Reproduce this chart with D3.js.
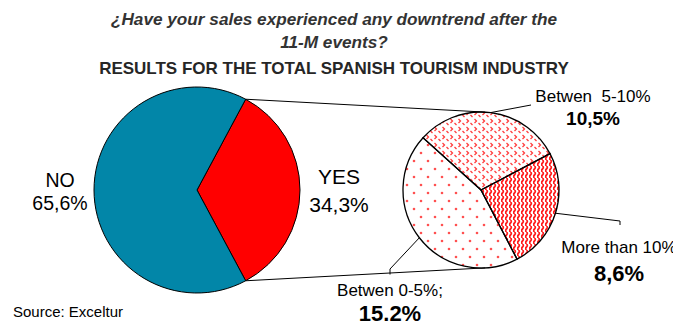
<!DOCTYPE html>
<html>
<head>
<meta charset="utf-8">
<script src="https://cdn.jsdelivr.net/npm/d3@7"></script>
<style>
  html, body { margin: 0; padding: 0; background: #fff; }
  svg { display: block; }
  text { font-family: Arial, "Liberation Sans", sans-serif; }
</style>
</head>
<body>
<div id="chart"></div>
<script>
// Main answer split
const mainCategories = ["YES", "NO"];
const mainValues = [34.3, 65.6];
const mainLabels = ["34,3%", "65,6%"];

// Breakdown of the "YES" answers by size of the downtrend
const subCategories = ["Betwen  5-10%", "More than 10%", "Betwen 0-5%;"];
const subValues = [10.5, 8.6, 15.2];
const subLabels = ["10,5%", "8,6%", "15.2%"];

const titleLines = ["¿Have your sales experienced any downtrend after the", "11-M events?"];
const subtitle = "RESULTS FOR THE TOTAL SPANISH TOURISM INDUSTRY";
const sourceNote = "Source: Exceltur";

const W = 673, H = 323;
const svg = d3.select("#chart").append("svg").attr("width", W).attr("height", H);

// ---- fill patterns for the breakdown pie ----
const defs = svg.append("defs");
const red = "#ff1a1a";

const pZig = defs.append("pattern").attr("id", "pat-zig")
  .attr("patternUnits", "userSpaceOnUse").attr("width", 8).attr("height", 8);
pZig.append("path").attr("d", "M1.5,1 L3.5,3 L1.5,5 M5.5,5 L7.5,7")
  .attr("fill", "none").attr("stroke", red).attr("stroke-width", 1.3).attr("opacity", 0.85);

const pWave = defs.append("pattern").attr("id", "pat-wave")
  .attr("patternUnits", "userSpaceOnUse").attr("width", 4).attr("height", 6);
pWave.append("path").attr("d", "M1.5,0 Q3.2,1.5 1.5,3 Q-0.2,4.5 1.5,6")
  .attr("fill", "none").attr("stroke", red).attr("stroke-width", 1.7);

const pDots = defs.append("pattern").attr("id", "pat-dots")
  .attr("patternUnits", "userSpaceOnUse").attr("width", 14).attr("height", 16);
[[3, 3], [10, 11]].forEach(([x, y]) =>
  pDots.append("circle").attr("cx", x).attr("cy", y).attr("r", 1.3).attr("fill", "#ff5050"));

const subFills = ["url(#pat-zig)", "url(#pat-wave)", "url(#pat-dots)"];

// ---- titles ----
const title = svg.append("g").attr("text-anchor", "middle");
title.selectAll("text.t").data(titleLines).join("text").attr("class", "t")
  .attr("x", 334).attr("y", (d, i) => 25 + i * 23)
  .attr("font-size", 17.2).attr("font-weight", "bold").attr("font-style", "italic")
  .attr("fill", "#333").text(d => d);
title.append("text").attr("x", 334).attr("y", 74)
  .attr("font-size", 17).attr("font-weight", "bold").attr("fill", "#262626").text(subtitle);

// ---- main pie ----
const main = { cx: 197, cy: 190, r: 103 };
const mainTotal = d3.sum(mainValues);
const yesSpan = 2 * Math.PI * mainValues[0] / mainTotal;
const mainStart = Math.PI / 2 - yesSpan / 2;
const mainPie = d3.pie().sort(null).startAngle(mainStart).endAngle(mainStart + 2 * Math.PI)(mainValues);
const mainArc = d3.arc().innerRadius(0).outerRadius(main.r);
const mainColor = d3.scaleOrdinal().domain(mainCategories).range(["#ff0000", "#0286a8"]);

const gMain = svg.append("g").attr("transform", `translate(${main.cx},${main.cy})`);
gMain.selectAll("path").data(mainPie).join("path")
  .attr("d", mainArc)
  .attr("fill", (d, i) => mainColor(mainCategories[i]))
  .attr("stroke", "#000").attr("stroke-width", 1);

// ---- breakdown pie ----
const sub = { cx: 481, cy: 190, r: 78 };
const subStart = -48 * Math.PI / 180;
const subPie = d3.pie().sort(null).startAngle(subStart).endAngle(subStart + 2 * Math.PI)(subValues);
const subArc = d3.arc().innerRadius(0).outerRadius(sub.r);

const gSub = svg.append("g").attr("transform", `translate(${sub.cx},${sub.cy})`);
gSub.append("circle").attr("r", sub.r).attr("fill", "#fff");
gSub.selectAll("path").data(subPie).join("path")
  .attr("d", subArc)
  .attr("fill", (d, i) => subFills[i])
  .attr("stroke", "#000").attr("stroke-width", 1.3);

// point on a circle for a d3 pie angle (0 = up, clockwise)
const onCircle = (c, a, r = c.r) => [c.cx + r * Math.sin(a), c.cy - r * Math.cos(a)];

// ---- connector lines: from the YES split points to tangent points on the breakdown pie ----
function tangentPoint(p, c, side) {
  const dx = p[0] - c.cx, dy = p[1] - c.cy;
  const d = Math.hypot(dx, dy);
  const phi = Math.atan2(dy, dx);
  const alpha = Math.acos(c.r / d);
  const t = phi + side * alpha;
  return [c.cx + c.r * Math.cos(t), c.cy + c.r * Math.sin(t)];
}
const yes = mainPie[0];
const pTop = onCircle(main, yes.startAngle);
const pBot = onCircle(main, yes.endAngle);
const connectors = [[pTop, tangentPoint(pTop, sub, 1)], [pBot, tangentPoint(pBot, sub, -1)]];
svg.append("g").selectAll("line").data(connectors).join("line")
  .attr("x1", d => d[0][0]).attr("y1", d => d[0][1])
  .attr("x2", d => d[1][0]).attr("y2", d => d[1][1])
  .attr("stroke", "#000").attr("stroke-width", 1);

// ---- main pie labels ----
const mainLabelPos = [{ x: 339, y1: 184, y2: 212, size: 21 }, { x: 60, y1: 187, y2: 210, size: 19.5 }];
const gMainLab = svg.append("g").attr("text-anchor", "middle").attr("fill", "#000");
mainCategories.forEach((c, i) => {
  const p = mainLabelPos[i];
  gMainLab.append("text").attr("x", p.x).attr("y", p.y1).attr("font-size", p.size).text(c);
  gMainLab.append("text").attr("x", p.x).attr("y", p.y2).attr("font-size", p.size).text(mainLabels[i]);
});

// ---- breakdown labels with leader lines ----
const subLabelPos = [
  { x: 593, y1: 101.5, y2: 125, size: 19, leader: [[531, 105]] },
  { x: 619, y1: 252.5, y2: 281, size: 22, leader: [[620, 221], [620, 225]] },
  { x: 390, y1: 296, y2: 321, size: 22, leader: [[390, 269], [390, 274.5]] }
];
const gLead = svg.append("g").attr("fill", "none").attr("stroke", "#000").attr("stroke-width", 1);
subPie.forEach((d, i) => {
  const mid = (d.startAngle + d.endAngle) / 2;
  const pts = [onCircle(sub, mid), ...subLabelPos[i].leader];
  gLead.append("path").attr("d", d3.line()(pts));
});
const gSubLab = svg.append("g").attr("text-anchor", "middle").attr("fill", "#000");
subCategories.forEach((c, i) => {
  const p = subLabelPos[i];
  gSubLab.append("text").attr("x", p.x).attr("y", p.y1).attr("font-size", 17)
    .style("white-space", "pre").text(c);
  gSubLab.append("text").attr("x", p.x).attr("y", p.y2).attr("font-size", p.size)
    .attr("font-weight", "bold").text(subLabels[i]);
});

// ---- source ----
svg.append("text").attr("x", 13).attr("y", 317).attr("font-size", 15).attr("fill", "#000").text(sourceNote);
</script>
</body>
</html>
